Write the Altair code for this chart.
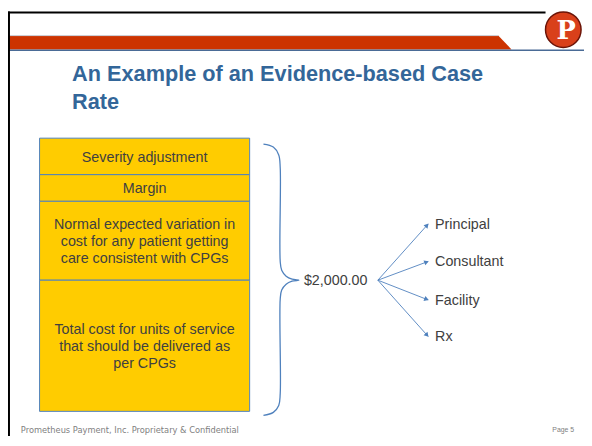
import altair as alt
import pandas as pd
import numpy as np

# ---------------- data ----------------
segments = [
    "Severity adjustment",
    "Margin",
    "Normal expected variation in\ncost for any patient getting\ncare consistent with CPGs",
    "Total cost for units of service\nthat should be delivered as\nper CPGs",
]
segment_heights = [37, 27, 80, 133]
total_label = "$2,000.00"
components = ["Principal", "Consultant", "Facility", "Rx"]
component_y = [224, 262, 301, 338]
title_text = "An Example of an Evidence-based Case\nRate"
footer_left = "Prometheus Payment, Inc. Proprietary & Confidential"
footer_right = "Page 5"

# brace outline (left edge of the curly bracket)
brace_x = [267, 277, 282.5, 284, 284, 285.5, 290, 296, 303, 296, 290, 285.5, 284, 284, 282.5, 277, 267]
brace_y = [143, 146, 154, 167, 262, 271, 277, 280, 281, 282, 285, 291, 300, 396, 408, 415, 418]

# ---------------- styling ----------------
FONT = "Liberation Sans"
BLUE = "#4F81BD"
TEXT = "#404040"
LH = 17.5
W, H = 584, 428
X = alt.Scale(domain=[8, 8 + W], nice=False, zero=False)
Y = alt.Scale(domain=[8, 8 + H], nice=False, zero=False, reverse=True)


def xe(f):
    return alt.X(f, type="quantitative", scale=X, axis=None)


def ye(f):
    return alt.Y(f, type="quantitative", scale=Y, axis=None)


# header decoration
border_top = alt.Chart(pd.DataFrame({"x": [8], "x2": [553], "y": [9.5]})).mark_rule(
    color="black", strokeWidth=2).encode(x=xe("x"), x2="x2", y=ye("y"))
border_left = alt.Chart(pd.DataFrame({"x": [9], "y": [8.5], "y2": [446]})).mark_rule(
    color="black", strokeWidth=2).encode(x=xe("x"), y=ye("y"), y2="y2")
red_bar = alt.Chart(pd.DataFrame({"x": [8, 505, 518.5], "y": [33, 33, 47], "y2": [47, 47, 47]})).mark_area(
    color="#CC3300", opacity=1).encode(x=xe("x"), y=ye("y"), y2="y2")
red_top = alt.Chart(pd.DataFrame({"x": [8], "x2": [505], "y": [33]})).mark_rule(
    color="#C9D3DD", strokeWidth=1).encode(x=xe("x"), x2="x2", y=ye("y"))
blue_line = alt.Chart(pd.DataFrame({"x": [8], "x2": [592], "y": [47.8]})).mark_rule(
    color="#4A6B96", strokeWidth=1.6).encode(x=xe("x"), x2="x2", y=ye("y"))
logo = alt.Chart(pd.DataFrame({"x": [571], "y": [27]})).mark_point(
    shape="circle", filled=True, fill="#D9401A", stroke="#6B1407", strokeWidth=1.5, size=1300, opacity=1
).encode(x=xe("x"), y=ye("y"))
logo_p = alt.Chart(pd.DataFrame({"x": [574], "y": [28], "t": ["P"]})).mark_text(
    font="DejaVu Serif", fontWeight="bold", fontSize=26, color="white", baseline="middle", align="center"
).encode(x=xe("x"), y=ye("y"), text="t")

title = alt.Chart(pd.DataFrame({"x": [73], "y": [79], "t": [title_text]})).mark_text(
    font=FONT, fontWeight="bold", fontSize=22, color="#336699", align="left",
    baseline="alphabetic", lineBreak="\n", lineHeight=28
).encode(x=xe("x"), y=ye("y"), text="t")

# stacked box
seg = pd.DataFrame({"label": segments, "h": segment_heights})
box_top, box_left, box_right = 137, 40, 253
seg["y2"] = box_top + seg["h"].cumsum()
seg["y1"] = seg["y2"] - seg["h"]
seg["nl"] = seg["label"].str.count("\n")
seg["ym"] = (seg["y1"] + seg["y2"]) / 2 - seg["nl"] * LH / 2
seg["x1"] = box_left
seg["x2"] = box_right
seg["xm"] = (box_left + box_right) / 2

boxes = alt.Chart(seg).mark_rect(fill="#FFCC00", stroke=BLUE, strokeWidth=1).encode(
    x=xe("x1"), x2="x2", y=ye("y1"), y2="y2")
box_text = alt.Chart(seg).mark_text(
    font=FONT, fontSize=14.5, color=TEXT, align="center", baseline="middle",
    lineBreak="\n", lineHeight=LH, dy=1.5
).encode(x=xe("xm"), y=ye("ym"), text="label")

# brace
brace_df = pd.DataFrame({"x": brace_x, "y": brace_y, "i": range(len(brace_x))})
brace = alt.Chart(brace_df).mark_line(color=BLUE, strokeWidth=1.3, interpolate="catmull-rom").encode(
    x=xe("x"), y=ye("y"), order="i")

total = alt.Chart(pd.DataFrame({"x": [308], "y": [281], "t": [total_label]})).mark_text(
    font=FONT, fontSize=14.5, color=TEXT, align="left", baseline="middle", dy=1
).encode(x=xe("x"), y=ye("y"), text="t")

# arrows
ox, oy, ex = 383, 281, 434
arr = pd.DataFrame({"label": components, "y2": component_y})
arr["x"] = ox
arr["y"] = oy
arr["x2"] = ex
dx = arr["x2"] - arr["x"]
dy = arr["y2"] - arr["y"]
L = np.sqrt(dx ** 2 + dy ** 2)
arr["hx"] = arr["x2"] - 2.5 * dx / L
arr["hy"] = arr["y2"] - 2.5 * dy / L
arr["ang"] = np.degrees(np.arctan2(dx, -dy))
arr["lx"] = ex + 7

arrow_lines = alt.Chart(arr).mark_rule(color=BLUE, strokeWidth=0.9).encode(
    x=xe("x"), y=ye("y"), x2="x2", y2="y2")
arrow_heads = alt.Chart(arr).mark_point(shape="triangle", filled=True, color=BLUE, size=28, opacity=1).encode(
    x=xe("hx"), y=ye("hy"), angle=alt.Angle("ang", type="quantitative", scale=None))
arrow_labels = alt.Chart(arr).mark_text(
    font=FONT, fontSize=14.5, color=TEXT, align="left", baseline="middle", dy=1
).encode(x=xe("lx"), y=ye("y2"), text="label")

foot_l = alt.Chart(pd.DataFrame({"x": [21], "y": [433], "t": [footer_left]})).mark_text(
    font="DejaVu Sans", fontSize=8.4, color="#808080", align="left", baseline="middle"
).encode(x=xe("x"), y=ye("y"), text="t")
foot_r = alt.Chart(pd.DataFrame({"x": [582], "y": [433], "t": [footer_right]})).mark_text(
    font=FONT, fontSize=7, color="#808080", align="right", baseline="middle"
).encode(x=xe("x"), y=ye("y"), text="t")

chart = alt.layer(
    red_bar, red_top, blue_line, border_top, border_left, logo, logo_p, title,
    boxes, box_text, brace, total, arrow_lines, arrow_heads, arrow_labels, foot_l, foot_r
).properties(
    width=W, height=H, padding=0, autosize=alt.AutoSizeParams(type="none"), background="white"
).configure_view(stroke=None)

chart.save("out.html", embed_options={"renderer": "svg", "actions": False})
